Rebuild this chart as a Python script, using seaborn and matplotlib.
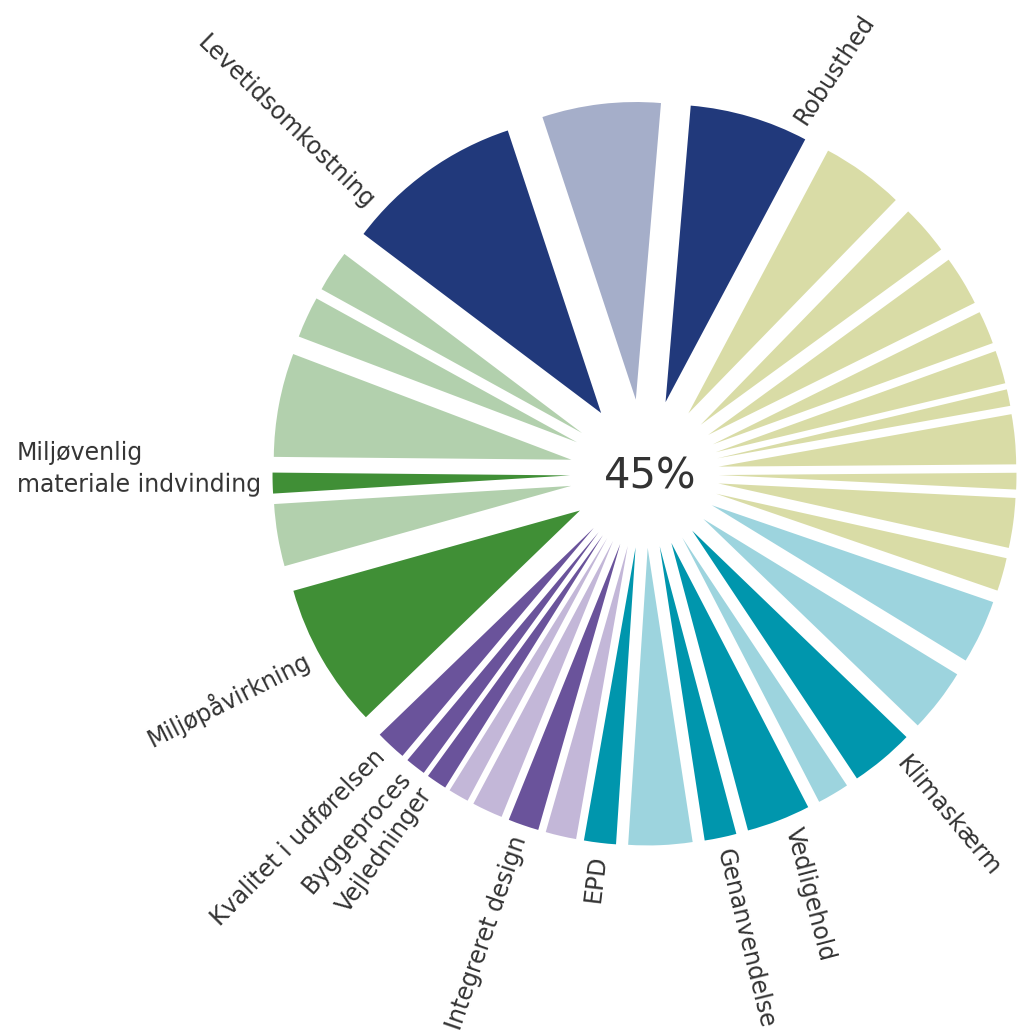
import numpy as np
import matplotlib
matplotlib.use("Agg")
import matplotlib.pyplot as plt
import seaborn as sns

# Criteria per category group, listed clockwise starting at Miljøpåvirkning.
# Weights are relative within each group; *_met marks fulfilled criteria (dark shade).
env_labels = ["Miljøpåvirkning", "", "Miljøvenlig\nmateriale indvinding", "", "", ""]
env_weights = [7, 3, 1, 5, 2, 2]
env_met = [True, False, True, False, False, False]

eco_labels = ["Levetidsomkostning", "", "Robusthed"]
eco_weights = [3, 2, 2]
eco_met = [True, False, True]

soc_labels = [""] * 10
soc_weights = [5, 3, 3, 2, 2, 1, 3, 1, 3, 2]
soc_met = [False] * 10

tec_labels = ["", "", "Klimaskærm", "", "Vedligehold", "Genanvendelse", "", "EPD"]
tec_weights = [2, 2, 2, 1, 2, 1, 2, 1]
tec_met = [False, False, True, False, True, True, False, True]

pro_labels = ["", "Integreret design", "", "", "Vejledninger", "Byggeproces",
              "Kvalitet i udførelsen"]
pro_weights = [3, 3, 3, 2, 2, 2, 3]
pro_met = [False, True, False, False, True, True, True]

# Share of the whole (percent) held by each group
group_share = [22.5, 22.5, 22.5, 22.5, 10.0]
total_score = "45%"

# (dark, light) colour per group
group_colors = [
    ("#408F36", "#B2D0AD"),
    ("#21397B", "#A5AEC9"),
    ("#A9AD55", "#D9DCA6"),
    ("#0096AD", "#9DD4DE"),
    ("#6A539B", "#C3B7D8"),
]

groups = [
    (env_labels, env_weights, env_met),
    (eco_labels, eco_weights, eco_met),
    (soc_labels, soc_weights, soc_met),
    (tec_labels, tec_weights, tec_met),
    (pro_labels, pro_weights, pro_met),
]

labels, values, colors = [], [], []
for (labs, wts, met), share, (dark, light) in zip(groups, group_share, group_colors):
    tot = sum(wts)
    for lab, w, m in zip(labs, wts, met):
        labels.append(lab)
        values.append(share * w / tot)
        colors.append(dark if m else light)

# angular fine-tuning of label placement: (position offset, rotation offset) in degrees
label_nudge = {
    "Levetidsomkostning": (10.0, 10.0),
    "Robusthed": (-7.5, -17.0),
    "Klimaskærm": (2.0, 0.0),
    "Vedligehold": (1.5, -6.5),
    "Genanvendelse": (0.0, 1.9),
    "Vejledninger": (-0.5, -1.4),
    "Byggeproces": (-0.3, -2.9),
    "Kvalitet i udførelsen": (-0.4, -1.6),
    "Miljøpåvirkning": (-1.0, -2.9),
    "Miljøvenlig\nmateriale indvinding": (-2.2, -1.4),
}

sns.set_theme(style="white")
plt.rcParams["font.family"] = ["DejaVu Sans"]

fig = plt.figure(figsize=(10.25, 10.31), dpi=100)
ax = fig.add_axes([0, 0, 1, 1])

wedges, _ = ax.pie(
    values,
    colors=colors,
    startangle=-136,
    counterclock=False,
    explode=[0.25] * len(values),
    radius=1.0,
    wedgeprops=dict(linewidth=0),
)

R_LABEL = 1.29
for w, lab in zip(wedges, labels):
    if not lab:
        continue
    mid = 0.5 * (w.theta1 + w.theta2)
    dp, dr = label_nudge.get(lab, (0.0, 0.0))
    ang = np.deg2rad(mid + dp)
    x, y = R_LABEL * np.cos(ang), R_LABEL * np.sin(ang)
    rot = mid + dr
    if np.cos(ang) >= 0:
        ha, rotation = "left", rot
    else:
        ha, rotation = "right", rot + 180
    ax.text(x, y, lab, rotation=rotation, rotation_mode="anchor",
            ha=ha, va="center", multialignment="left", linespacing=1.4,
            fontsize=17, color="#333333")

ax.text(0.018, -0.01, total_score, ha="center", va="center",
        fontsize=30, color="#333333")

ax.set_xlim(-2.1657, 1.2786)
ax.set_ylim(-1.8733, 1.5911)
ax.set_aspect("auto")
ax.axis("off")

fig.savefig("out.png", dpi=100, facecolor="white")
